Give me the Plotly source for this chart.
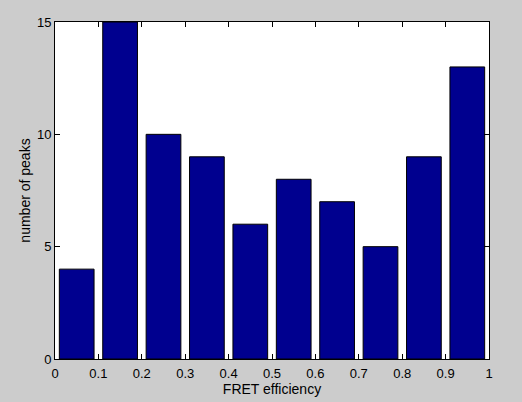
import plotly.graph_objects as go

bin_centers = [0.05, 0.15, 0.25, 0.35, 0.45, 0.55, 0.65, 0.75, 0.85, 0.95]
peak_counts = [4, 15, 10, 9, 6, 8, 7, 5, 9, 13]
x_ticks = [0, 0.1, 0.2, 0.3, 0.4, 0.5, 0.6, 0.7, 0.8, 0.9, 1]
x_tick_labels = ["0", "0.1", "0.2", "0.3", "0.4", "0.5", "0.6", "0.7", "0.8", "0.9", "1"]
y_ticks = [0, 5, 10, 15]

fig = go.Figure()
fig.add_trace(go.Bar(
    x=bin_centers, y=peak_counts, width=0.08,
    marker=dict(color="#00008f", line=dict(color="black", width=1)),
))

font = dict(family="Liberation Sans, Arial, sans-serif", size=12, color="black")
fig.update_layout(
    width=522, height=402,
    margin=dict(l=55, r=33, t=22, b=43),
    paper_bgcolor="#cccccc", plot_bgcolor="white",
    showlegend=False, font=font,
    xaxis=dict(range=[0, 1], tickvals=x_ticks, ticktext=x_tick_labels,
               ticks="inside", ticklen=5, tickcolor="black", mirror="allticks",
               showline=True, linecolor="black", linewidth=1, showgrid=False,
               zeroline=False, automargin=False, ticklabelstandoff=2,
               tickfont=dict(size=13),
               title=dict(text="FRET efficiency", standoff=3)),
    yaxis=dict(range=[0, 15], tickvals=y_ticks,
               ticks="inside", ticklen=5, tickcolor="black", mirror="allticks",
               showline=True, linecolor="black", linewidth=1, showgrid=False,
               zeroline=False, automargin=False, tickfont=dict(size=13),
               title=dict(text="number of peaks", standoff=3)),
)
fig.write_html(
    "out.html",
    config={"displayModeBar": False},
    post_script="document.body.style.margin='0';document.body.style.background='#cccccc';",
)
